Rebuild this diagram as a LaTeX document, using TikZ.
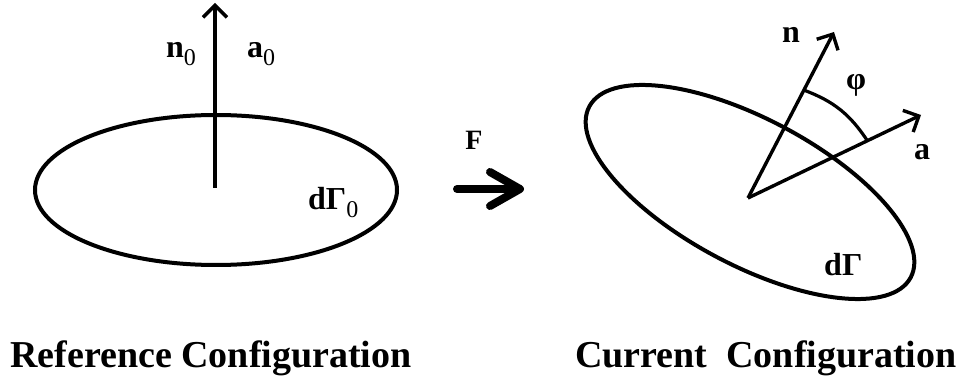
\documentclass[tikz,border=0pt]{standalone}
\usepackage{fontspec}
\setmainfont{Liberation Serif}
\usetikzlibrary{arrows.meta, calc}
\newcommand{\subzero}{\raisebox{-8pt}{\normalfont\fontsize{24}{24}\selectfont 0}}

\begin{document}
\begin{tikzpicture}[x=1pt, y=1pt,
  vec/.style={line width=3.4pt, -{Straight Barb[length=12pt, width=24pt]}},
  surf/.style={line width=4pt},
  lbl/.style={font=\fontsize{32}{32}\selectfont\bfseries, inner sep=0pt},
  caption/.style={font=\fontsize{38}{38}\selectfont\bfseries, inner sep=0pt, anchor=base}]
\useasboundingbox (0,0) rectangle (964,383);

% Reference configuration
\coordinate (c0) at (216,193);
\draw[surf] (c0) ellipse [x radius=181, y radius=75];
\coordinate (o0) at (215,195);
\coordinate (t0) at (215,380);
\draw[vec] (o0) -- (t0);
\node[lbl, anchor=base west] (n0) at (166,325) {n\subzero};
\node[lbl, anchor=base west] (a0) at (247,325) {a\subzero};
\node[lbl, anchor=base west] (g0) at (308,173) {dΓ\subzero};

% Deformation map
\node[lbl, font=\fontsize{28}{28}\selectfont\bfseries, anchor=base] (F) at (474,233) {F};
\coordinate (fs) at (457,194);
\coordinate (fe) at (524,194);
\draw[line width=8pt, line cap=round, -{Straight Barb[round, length=30pt, width=34pt]}] (fs) -- (fe);

% Current configuration
\coordinate (c1) at (750,191);
\draw[surf, rotate around={-28:(c1)}] (c1) ellipse [x radius=182, y radius=73];
\coordinate (o1) at (748,185);
\coordinate (tn) at (834,351);
\coordinate (ta) at (921,268);
\draw[vec] (o1) -- (tn);
\draw[vec] (o1) -- (ta);
\coordinate (pn) at ($(o1)!0.65!(tn)$);
\coordinate (pa) at ($(o1)!0.69!(ta)$);
\draw[line width=3.2pt] (pn) to[bend left=18] (pa);
\node[lbl, anchor=base west] (n) at (782,340) {n};
\node[lbl] (phi) at (856,298) {φ};
\node[lbl, anchor=base west] (a) at (914,223) {a};
\node[lbl, anchor=base west] (g) at (824,107) {dΓ};

% Captions
\node[caption] (ref) at (211,16) {Reference Configuration};
\node[caption] (cur) at (766,16) {Current\ \ Configuration};
\end{tikzpicture}
\end{document}
